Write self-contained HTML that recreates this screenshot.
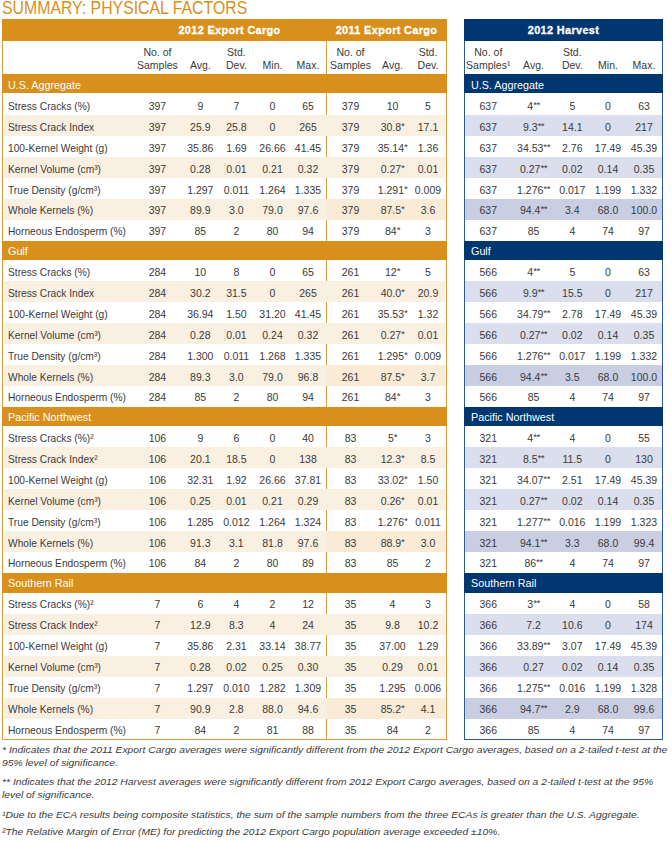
<!DOCTYPE html>
<html><head><meta charset="utf-8"><title>Summary: Physical Factors</title>
<style>
html,body{margin:0;padding:0;background:#fff;}
body{width:672px;height:842px;position:relative;overflow:hidden;font-family:"Liberation Sans", sans-serif;}
.t{position:absolute;white-space:nowrap;}
.r{position:absolute;}
.ast{font-size:0.95em;position:relative;top:-2px;letter-spacing:-0.6px;}
</style></head><body>
<div class="t" style="left:2.00px;top:-0.94px;font-size:17.5px;line-height:19.547px;color:#d88f1c;font-weight:normal;font-style:normal;transform:scaleX(0.905);transform-origin:0 0;">SUMMARY: PHYSICAL FACTORS</div>
<div class="r" style="left:2.00px;top:19.00px;width:1.00px;height:720.66px;background:#dc9c3e"></div>
<div class="r" style="left:446.00px;top:19.00px;width:1.00px;height:720.66px;background:#dc9c3e"></div>
<div class="r" style="left:2.00px;top:738.66px;width:445.00px;height:1.00px;background:#dc9c3e"></div>
<div class="r" style="left:326.00px;top:40.60px;width:1.00px;height:699.06px;background:#dc9c3e"></div>
<div class="r" style="left:464.00px;top:19.00px;width:1.00px;height:720.66px;background:#2b5a92"></div>
<div class="r" style="left:662.00px;top:19.00px;width:1.00px;height:720.66px;background:#2b5a92"></div>
<div class="r" style="left:464.00px;top:738.66px;width:199.00px;height:1.00px;background:#2b5a92"></div>
<div class="r" style="left:2.00px;top:19.00px;width:445.00px;height:21.60px;background:#d88f1c"></div>
<div class="r" style="left:464.00px;top:19.00px;width:199.00px;height:21.60px;background:#003770"></div>
<div class="t" style="left:129.50px;width:200px;text-align:center;top:23.94px;font-size:10.9px;line-height:12.175px;color:#fff;font-weight:bold;font-style:normal;letter-spacing:0.35px;-webkit-text-stroke:0.3px #fff;">2012 Export Cargo</div>
<div class="t" style="left:286.50px;width:200px;text-align:center;top:23.94px;font-size:10.9px;line-height:12.175px;color:#fff;font-weight:bold;font-style:normal;letter-spacing:0.35px;-webkit-text-stroke:0.3px #fff;">2011 Export Cargo</div>
<div class="t" style="left:463.50px;width:200px;text-align:center;top:23.94px;font-size:10.9px;line-height:12.175px;color:#fff;font-weight:bold;font-style:normal;letter-spacing:0.35px;-webkit-text-stroke:0.3px #fff;">2012 Harvest</div>
<div class="t" style="left:57.40px;width:200px;text-align:center;top:47.20px;font-size:10.5px;line-height:11.729px;color:#3a3a3a;font-weight:normal;font-style:normal;">No. of</div>
<div class="t" style="left:57.40px;width:200px;text-align:center;top:60.10px;font-size:10.5px;line-height:11.729px;color:#3a3a3a;font-weight:normal;font-style:normal;">Samples</div>
<div class="t" style="left:100.30px;width:200px;text-align:center;top:60.10px;font-size:10.5px;line-height:11.729px;color:#3a3a3a;font-weight:normal;font-style:normal;">Avg.</div>
<div class="t" style="left:136.40px;width:200px;text-align:center;top:47.20px;font-size:10.5px;line-height:11.729px;color:#3a3a3a;font-weight:normal;font-style:normal;">Std.</div>
<div class="t" style="left:136.40px;width:200px;text-align:center;top:60.10px;font-size:10.5px;line-height:11.729px;color:#3a3a3a;font-weight:normal;font-style:normal;">Dev.</div>
<div class="t" style="left:172.50px;width:200px;text-align:center;top:60.10px;font-size:10.5px;line-height:11.729px;color:#3a3a3a;font-weight:normal;font-style:normal;">Min.</div>
<div class="t" style="left:208.00px;width:200px;text-align:center;top:60.10px;font-size:10.5px;line-height:11.729px;color:#3a3a3a;font-weight:normal;font-style:normal;">Max.</div>
<div class="t" style="left:250.50px;width:200px;text-align:center;top:47.20px;font-size:10.5px;line-height:11.729px;color:#3a3a3a;font-weight:normal;font-style:normal;">No. of</div>
<div class="t" style="left:250.50px;width:200px;text-align:center;top:60.10px;font-size:10.5px;line-height:11.729px;color:#3a3a3a;font-weight:normal;font-style:normal;">Samples</div>
<div class="t" style="left:292.50px;width:200px;text-align:center;top:60.10px;font-size:10.5px;line-height:11.729px;color:#3a3a3a;font-weight:normal;font-style:normal;">Avg.</div>
<div class="t" style="left:328.00px;width:200px;text-align:center;top:47.20px;font-size:10.5px;line-height:11.729px;color:#3a3a3a;font-weight:normal;font-style:normal;">Std.</div>
<div class="t" style="left:328.00px;width:200px;text-align:center;top:60.10px;font-size:10.5px;line-height:11.729px;color:#3a3a3a;font-weight:normal;font-style:normal;">Dev.</div>
<div class="t" style="left:388.30px;width:200px;text-align:center;top:47.20px;font-size:10.5px;line-height:11.729px;color:#3a3a3a;font-weight:normal;font-style:normal;">No. of</div>
<div class="t" style="left:388.30px;width:200px;text-align:center;top:60.10px;font-size:10.5px;line-height:11.729px;color:#3a3a3a;font-weight:normal;font-style:normal;">Samples&sup1;</div>
<div class="t" style="left:433.50px;width:200px;text-align:center;top:60.10px;font-size:10.5px;line-height:11.729px;color:#3a3a3a;font-weight:normal;font-style:normal;">Avg.</div>
<div class="t" style="left:472.30px;width:200px;text-align:center;top:47.20px;font-size:10.5px;line-height:11.729px;color:#3a3a3a;font-weight:normal;font-style:normal;">Std.</div>
<div class="t" style="left:472.30px;width:200px;text-align:center;top:60.10px;font-size:10.5px;line-height:11.729px;color:#3a3a3a;font-weight:normal;font-style:normal;">Dev.</div>
<div class="t" style="left:508.00px;width:200px;text-align:center;top:60.10px;font-size:10.5px;line-height:11.729px;color:#3a3a3a;font-weight:normal;font-style:normal;">Min.</div>
<div class="t" style="left:544.00px;width:200px;text-align:center;top:60.10px;font-size:10.5px;line-height:11.729px;color:#3a3a3a;font-weight:normal;font-style:normal;">Max.</div>
<div class="r" style="left:2.00px;top:74.30px;width:445.00px;height:19.20px;background:#d88f1c"></div>
<div class="r" style="left:464.00px;top:74.30px;width:199.00px;height:19.20px;background:#003770"></div>
<div class="t" style="left:7.70px;top:80.00px;font-size:10.5px;line-height:11.729px;color:#fff;font-weight:normal;font-style:normal;transform:scaleX(1.026);transform-origin:0 0;">U.S. Aggregate</div>
<div class="t" style="left:470.80px;top:80.00px;font-size:10.5px;line-height:11.729px;color:#fff;font-weight:normal;font-style:normal;transform:scaleX(1.026);transform-origin:0 0;">U.S. Aggregate</div>
<div class="t" style="left:7.90px;top:101.00px;font-size:10.5px;line-height:11.729px;color:#3a3a3a;font-weight:normal;font-style:normal;transform:scaleX(0.972);transform-origin:0 0;">Stress Cracks (%)</div>
<div class="t" style="left:57.40px;width:200px;text-align:center;top:101.00px;font-size:10.5px;line-height:11.729px;color:#3a3a3a;font-weight:normal;font-style:normal;">397</div>
<div class="t" style="left:100.30px;width:200px;text-align:center;top:101.00px;font-size:10.5px;line-height:11.729px;color:#3a3a3a;font-weight:normal;font-style:normal;">9</div>
<div class="t" style="left:136.40px;width:200px;text-align:center;top:101.00px;font-size:10.5px;line-height:11.729px;color:#3a3a3a;font-weight:normal;font-style:normal;">7</div>
<div class="t" style="left:172.50px;width:200px;text-align:center;top:101.00px;font-size:10.5px;line-height:11.729px;color:#3a3a3a;font-weight:normal;font-style:normal;">0</div>
<div class="t" style="left:208.00px;width:200px;text-align:center;top:101.00px;font-size:10.5px;line-height:11.729px;color:#3a3a3a;font-weight:normal;font-style:normal;">65</div>
<div class="t" style="left:250.50px;width:200px;text-align:center;top:101.00px;font-size:10.5px;line-height:11.729px;color:#3a3a3a;font-weight:normal;font-style:normal;">379</div>
<div class="t" style="left:292.50px;width:200px;text-align:center;top:101.00px;font-size:10.5px;line-height:11.729px;color:#3a3a3a;font-weight:normal;font-style:normal;">10</div>
<div class="t" style="left:328.00px;width:200px;text-align:center;top:101.00px;font-size:10.5px;line-height:11.729px;color:#3a3a3a;font-weight:normal;font-style:normal;">5</div>
<div class="t" style="left:388.30px;width:200px;text-align:center;top:101.00px;font-size:10.5px;line-height:11.729px;color:#3a3a3a;font-weight:normal;font-style:normal;">637</div>
<div class="t" style="left:433.50px;width:200px;text-align:center;top:101.00px;font-size:10.5px;line-height:11.729px;color:#3a3a3a;font-weight:normal;font-style:normal;">4<span class="ast">**</span></div>
<div class="t" style="left:472.30px;width:200px;text-align:center;top:101.00px;font-size:10.5px;line-height:11.729px;color:#3a3a3a;font-weight:normal;font-style:normal;">5</div>
<div class="t" style="left:508.00px;width:200px;text-align:center;top:101.00px;font-size:10.5px;line-height:11.729px;color:#3a3a3a;font-weight:normal;font-style:normal;">0</div>
<div class="t" style="left:544.00px;width:200px;text-align:center;top:101.00px;font-size:10.5px;line-height:11.729px;color:#3a3a3a;font-weight:normal;font-style:normal;">63</div>
<div class="r" style="left:4.00px;top:114.52px;width:441.00px;height:21.02px;background:#faf0e1"></div>
<div class="r" style="left:465.00px;top:114.52px;width:197.00px;height:21.02px;background:#dbdeec"></div>
<div class="t" style="left:7.90px;top:122.00px;font-size:10.5px;line-height:11.729px;color:#3a3a3a;font-weight:normal;font-style:normal;transform:scaleX(0.972);transform-origin:0 0;">Stress Crack Index</div>
<div class="t" style="left:57.40px;width:200px;text-align:center;top:122.00px;font-size:10.5px;line-height:11.729px;color:#3a3a3a;font-weight:normal;font-style:normal;">397</div>
<div class="t" style="left:100.30px;width:200px;text-align:center;top:122.00px;font-size:10.5px;line-height:11.729px;color:#3a3a3a;font-weight:normal;font-style:normal;">25.9</div>
<div class="t" style="left:136.40px;width:200px;text-align:center;top:122.00px;font-size:10.5px;line-height:11.729px;color:#3a3a3a;font-weight:normal;font-style:normal;">25.8</div>
<div class="t" style="left:172.50px;width:200px;text-align:center;top:122.00px;font-size:10.5px;line-height:11.729px;color:#3a3a3a;font-weight:normal;font-style:normal;">0</div>
<div class="t" style="left:208.00px;width:200px;text-align:center;top:122.00px;font-size:10.5px;line-height:11.729px;color:#3a3a3a;font-weight:normal;font-style:normal;">265</div>
<div class="t" style="left:250.50px;width:200px;text-align:center;top:122.00px;font-size:10.5px;line-height:11.729px;color:#3a3a3a;font-weight:normal;font-style:normal;">379</div>
<div class="t" style="left:292.50px;width:200px;text-align:center;top:122.00px;font-size:10.5px;line-height:11.729px;color:#3a3a3a;font-weight:normal;font-style:normal;">30.8<span class="ast">*</span></div>
<div class="t" style="left:328.00px;width:200px;text-align:center;top:122.00px;font-size:10.5px;line-height:11.729px;color:#3a3a3a;font-weight:normal;font-style:normal;">17.1</div>
<div class="t" style="left:388.30px;width:200px;text-align:center;top:122.00px;font-size:10.5px;line-height:11.729px;color:#3a3a3a;font-weight:normal;font-style:normal;">637</div>
<div class="t" style="left:433.50px;width:200px;text-align:center;top:122.00px;font-size:10.5px;line-height:11.729px;color:#3a3a3a;font-weight:normal;font-style:normal;">9.3<span class="ast">**</span></div>
<div class="t" style="left:472.30px;width:200px;text-align:center;top:122.00px;font-size:10.5px;line-height:11.729px;color:#3a3a3a;font-weight:normal;font-style:normal;">14.1</div>
<div class="t" style="left:508.00px;width:200px;text-align:center;top:122.00px;font-size:10.5px;line-height:11.729px;color:#3a3a3a;font-weight:normal;font-style:normal;">0</div>
<div class="t" style="left:544.00px;width:200px;text-align:center;top:122.00px;font-size:10.5px;line-height:11.729px;color:#3a3a3a;font-weight:normal;font-style:normal;">217</div>
<div class="t" style="left:7.90px;top:143.00px;font-size:10.5px;line-height:11.729px;color:#3a3a3a;font-weight:normal;font-style:normal;transform:scaleX(0.972);transform-origin:0 0;">100-Kernel Weight (g)</div>
<div class="t" style="left:57.40px;width:200px;text-align:center;top:143.00px;font-size:10.5px;line-height:11.729px;color:#3a3a3a;font-weight:normal;font-style:normal;">397</div>
<div class="t" style="left:100.30px;width:200px;text-align:center;top:143.00px;font-size:10.5px;line-height:11.729px;color:#3a3a3a;font-weight:normal;font-style:normal;">35.86</div>
<div class="t" style="left:136.40px;width:200px;text-align:center;top:143.00px;font-size:10.5px;line-height:11.729px;color:#3a3a3a;font-weight:normal;font-style:normal;">1.69</div>
<div class="t" style="left:172.50px;width:200px;text-align:center;top:143.00px;font-size:10.5px;line-height:11.729px;color:#3a3a3a;font-weight:normal;font-style:normal;">26.66</div>
<div class="t" style="left:208.00px;width:200px;text-align:center;top:143.00px;font-size:10.5px;line-height:11.729px;color:#3a3a3a;font-weight:normal;font-style:normal;">41.45</div>
<div class="t" style="left:250.50px;width:200px;text-align:center;top:143.00px;font-size:10.5px;line-height:11.729px;color:#3a3a3a;font-weight:normal;font-style:normal;">379</div>
<div class="t" style="left:292.50px;width:200px;text-align:center;top:143.00px;font-size:10.5px;line-height:11.729px;color:#3a3a3a;font-weight:normal;font-style:normal;">35.14<span class="ast">*</span></div>
<div class="t" style="left:328.00px;width:200px;text-align:center;top:143.00px;font-size:10.5px;line-height:11.729px;color:#3a3a3a;font-weight:normal;font-style:normal;">1.36</div>
<div class="t" style="left:388.30px;width:200px;text-align:center;top:143.00px;font-size:10.5px;line-height:11.729px;color:#3a3a3a;font-weight:normal;font-style:normal;">637</div>
<div class="t" style="left:433.50px;width:200px;text-align:center;top:143.00px;font-size:10.5px;line-height:11.729px;color:#3a3a3a;font-weight:normal;font-style:normal;">34.53<span class="ast">**</span></div>
<div class="t" style="left:472.30px;width:200px;text-align:center;top:143.00px;font-size:10.5px;line-height:11.729px;color:#3a3a3a;font-weight:normal;font-style:normal;">2.76</div>
<div class="t" style="left:508.00px;width:200px;text-align:center;top:143.00px;font-size:10.5px;line-height:11.729px;color:#3a3a3a;font-weight:normal;font-style:normal;">17.49</div>
<div class="t" style="left:544.00px;width:200px;text-align:center;top:143.00px;font-size:10.5px;line-height:11.729px;color:#3a3a3a;font-weight:normal;font-style:normal;">45.39</div>
<div class="r" style="left:4.00px;top:156.56px;width:441.00px;height:21.02px;background:#faf0e1"></div>
<div class="r" style="left:465.00px;top:156.56px;width:197.00px;height:21.02px;background:#dbdeec"></div>
<div class="t" style="left:7.90px;top:164.00px;font-size:10.5px;line-height:11.729px;color:#3a3a3a;font-weight:normal;font-style:normal;transform:scaleX(0.972);transform-origin:0 0;">Kernel Volume (cm&sup3;)</div>
<div class="t" style="left:57.40px;width:200px;text-align:center;top:164.00px;font-size:10.5px;line-height:11.729px;color:#3a3a3a;font-weight:normal;font-style:normal;">397</div>
<div class="t" style="left:100.30px;width:200px;text-align:center;top:164.00px;font-size:10.5px;line-height:11.729px;color:#3a3a3a;font-weight:normal;font-style:normal;">0.28</div>
<div class="t" style="left:136.40px;width:200px;text-align:center;top:164.00px;font-size:10.5px;line-height:11.729px;color:#3a3a3a;font-weight:normal;font-style:normal;">0.01</div>
<div class="t" style="left:172.50px;width:200px;text-align:center;top:164.00px;font-size:10.5px;line-height:11.729px;color:#3a3a3a;font-weight:normal;font-style:normal;">0.21</div>
<div class="t" style="left:208.00px;width:200px;text-align:center;top:164.00px;font-size:10.5px;line-height:11.729px;color:#3a3a3a;font-weight:normal;font-style:normal;">0.32</div>
<div class="t" style="left:250.50px;width:200px;text-align:center;top:164.00px;font-size:10.5px;line-height:11.729px;color:#3a3a3a;font-weight:normal;font-style:normal;">379</div>
<div class="t" style="left:292.50px;width:200px;text-align:center;top:164.00px;font-size:10.5px;line-height:11.729px;color:#3a3a3a;font-weight:normal;font-style:normal;">0.27<span class="ast">*</span></div>
<div class="t" style="left:328.00px;width:200px;text-align:center;top:164.00px;font-size:10.5px;line-height:11.729px;color:#3a3a3a;font-weight:normal;font-style:normal;">0.01</div>
<div class="t" style="left:388.30px;width:200px;text-align:center;top:164.00px;font-size:10.5px;line-height:11.729px;color:#3a3a3a;font-weight:normal;font-style:normal;">637</div>
<div class="t" style="left:433.50px;width:200px;text-align:center;top:164.00px;font-size:10.5px;line-height:11.729px;color:#3a3a3a;font-weight:normal;font-style:normal;">0.27<span class="ast">**</span></div>
<div class="t" style="left:472.30px;width:200px;text-align:center;top:164.00px;font-size:10.5px;line-height:11.729px;color:#3a3a3a;font-weight:normal;font-style:normal;">0.02</div>
<div class="t" style="left:508.00px;width:200px;text-align:center;top:164.00px;font-size:10.5px;line-height:11.729px;color:#3a3a3a;font-weight:normal;font-style:normal;">0.14</div>
<div class="t" style="left:544.00px;width:200px;text-align:center;top:164.00px;font-size:10.5px;line-height:11.729px;color:#3a3a3a;font-weight:normal;font-style:normal;">0.35</div>
<div class="t" style="left:7.90px;top:185.00px;font-size:10.5px;line-height:11.729px;color:#3a3a3a;font-weight:normal;font-style:normal;transform:scaleX(0.972);transform-origin:0 0;">True Density (g/cm&sup3;)</div>
<div class="t" style="left:57.40px;width:200px;text-align:center;top:185.00px;font-size:10.5px;line-height:11.729px;color:#3a3a3a;font-weight:normal;font-style:normal;">397</div>
<div class="t" style="left:100.30px;width:200px;text-align:center;top:185.00px;font-size:10.5px;line-height:11.729px;color:#3a3a3a;font-weight:normal;font-style:normal;">1.297</div>
<div class="t" style="left:136.40px;width:200px;text-align:center;top:185.00px;font-size:10.5px;line-height:11.729px;color:#3a3a3a;font-weight:normal;font-style:normal;">0.011</div>
<div class="t" style="left:172.50px;width:200px;text-align:center;top:185.00px;font-size:10.5px;line-height:11.729px;color:#3a3a3a;font-weight:normal;font-style:normal;">1.264</div>
<div class="t" style="left:208.00px;width:200px;text-align:center;top:185.00px;font-size:10.5px;line-height:11.729px;color:#3a3a3a;font-weight:normal;font-style:normal;">1.335</div>
<div class="t" style="left:250.50px;width:200px;text-align:center;top:185.00px;font-size:10.5px;line-height:11.729px;color:#3a3a3a;font-weight:normal;font-style:normal;">379</div>
<div class="t" style="left:292.50px;width:200px;text-align:center;top:185.00px;font-size:10.5px;line-height:11.729px;color:#3a3a3a;font-weight:normal;font-style:normal;">1.291<span class="ast">*</span></div>
<div class="t" style="left:328.00px;width:200px;text-align:center;top:185.00px;font-size:10.5px;line-height:11.729px;color:#3a3a3a;font-weight:normal;font-style:normal;">0.009</div>
<div class="t" style="left:388.30px;width:200px;text-align:center;top:185.00px;font-size:10.5px;line-height:11.729px;color:#3a3a3a;font-weight:normal;font-style:normal;">637</div>
<div class="t" style="left:433.50px;width:200px;text-align:center;top:185.00px;font-size:10.5px;line-height:11.729px;color:#3a3a3a;font-weight:normal;font-style:normal;">1.276<span class="ast">**</span></div>
<div class="t" style="left:472.30px;width:200px;text-align:center;top:185.00px;font-size:10.5px;line-height:11.729px;color:#3a3a3a;font-weight:normal;font-style:normal;">0.017</div>
<div class="t" style="left:508.00px;width:200px;text-align:center;top:185.00px;font-size:10.5px;line-height:11.729px;color:#3a3a3a;font-weight:normal;font-style:normal;">1.199</div>
<div class="t" style="left:544.00px;width:200px;text-align:center;top:185.00px;font-size:10.5px;line-height:11.729px;color:#3a3a3a;font-weight:normal;font-style:normal;">1.332</div>
<div class="r" style="left:4.00px;top:198.60px;width:441.00px;height:21.02px;background:#faf0e1"></div>
<div class="r" style="left:465.00px;top:198.60px;width:197.00px;height:21.02px;background:#c9cee3"></div>
<div class="r" style="left:327.00px;top:198.60px;width:118.00px;height:21.02px;background:#f9ebd6"></div>
<div class="t" style="left:7.90px;top:205.00px;font-size:10.5px;line-height:11.729px;color:#3a3a3a;font-weight:normal;font-style:normal;transform:scaleX(0.972);transform-origin:0 0;">Whole Kernels (%)</div>
<div class="t" style="left:57.40px;width:200px;text-align:center;top:205.00px;font-size:10.5px;line-height:11.729px;color:#3a3a3a;font-weight:normal;font-style:normal;">397</div>
<div class="t" style="left:100.30px;width:200px;text-align:center;top:205.00px;font-size:10.5px;line-height:11.729px;color:#3a3a3a;font-weight:normal;font-style:normal;">89.9</div>
<div class="t" style="left:136.40px;width:200px;text-align:center;top:205.00px;font-size:10.5px;line-height:11.729px;color:#3a3a3a;font-weight:normal;font-style:normal;">3.0</div>
<div class="t" style="left:172.50px;width:200px;text-align:center;top:205.00px;font-size:10.5px;line-height:11.729px;color:#3a3a3a;font-weight:normal;font-style:normal;">79.0</div>
<div class="t" style="left:208.00px;width:200px;text-align:center;top:205.00px;font-size:10.5px;line-height:11.729px;color:#3a3a3a;font-weight:normal;font-style:normal;">97.6</div>
<div class="t" style="left:250.50px;width:200px;text-align:center;top:205.00px;font-size:10.5px;line-height:11.729px;color:#3a3a3a;font-weight:normal;font-style:normal;">379</div>
<div class="t" style="left:292.50px;width:200px;text-align:center;top:205.00px;font-size:10.5px;line-height:11.729px;color:#3a3a3a;font-weight:normal;font-style:normal;">87.5<span class="ast">*</span></div>
<div class="t" style="left:328.00px;width:200px;text-align:center;top:205.00px;font-size:10.5px;line-height:11.729px;color:#3a3a3a;font-weight:normal;font-style:normal;">3.6</div>
<div class="t" style="left:388.30px;width:200px;text-align:center;top:205.00px;font-size:10.5px;line-height:11.729px;color:#3a3a3a;font-weight:normal;font-style:normal;">637</div>
<div class="t" style="left:433.50px;width:200px;text-align:center;top:205.00px;font-size:10.5px;line-height:11.729px;color:#3a3a3a;font-weight:normal;font-style:normal;">94.4<span class="ast">**</span></div>
<div class="t" style="left:472.30px;width:200px;text-align:center;top:205.00px;font-size:10.5px;line-height:11.729px;color:#3a3a3a;font-weight:normal;font-style:normal;">3.4</div>
<div class="t" style="left:508.00px;width:200px;text-align:center;top:205.00px;font-size:10.5px;line-height:11.729px;color:#3a3a3a;font-weight:normal;font-style:normal;">68.0</div>
<div class="t" style="left:544.00px;width:200px;text-align:center;top:205.00px;font-size:10.5px;line-height:11.729px;color:#3a3a3a;font-weight:normal;font-style:normal;">100.0</div>
<div class="t" style="left:7.90px;top:226.00px;font-size:10.5px;line-height:11.729px;color:#3a3a3a;font-weight:normal;font-style:normal;transform:scaleX(0.972);transform-origin:0 0;">Horneous Endosperm (%)</div>
<div class="t" style="left:57.40px;width:200px;text-align:center;top:226.00px;font-size:10.5px;line-height:11.729px;color:#3a3a3a;font-weight:normal;font-style:normal;">397</div>
<div class="t" style="left:100.30px;width:200px;text-align:center;top:226.00px;font-size:10.5px;line-height:11.729px;color:#3a3a3a;font-weight:normal;font-style:normal;">85</div>
<div class="t" style="left:136.40px;width:200px;text-align:center;top:226.00px;font-size:10.5px;line-height:11.729px;color:#3a3a3a;font-weight:normal;font-style:normal;">2</div>
<div class="t" style="left:172.50px;width:200px;text-align:center;top:226.00px;font-size:10.5px;line-height:11.729px;color:#3a3a3a;font-weight:normal;font-style:normal;">80</div>
<div class="t" style="left:208.00px;width:200px;text-align:center;top:226.00px;font-size:10.5px;line-height:11.729px;color:#3a3a3a;font-weight:normal;font-style:normal;">94</div>
<div class="t" style="left:250.50px;width:200px;text-align:center;top:226.00px;font-size:10.5px;line-height:11.729px;color:#3a3a3a;font-weight:normal;font-style:normal;">379</div>
<div class="t" style="left:292.50px;width:200px;text-align:center;top:226.00px;font-size:10.5px;line-height:11.729px;color:#3a3a3a;font-weight:normal;font-style:normal;">84<span class="ast">*</span></div>
<div class="t" style="left:328.00px;width:200px;text-align:center;top:226.00px;font-size:10.5px;line-height:11.729px;color:#3a3a3a;font-weight:normal;font-style:normal;">3</div>
<div class="t" style="left:388.30px;width:200px;text-align:center;top:226.00px;font-size:10.5px;line-height:11.729px;color:#3a3a3a;font-weight:normal;font-style:normal;">637</div>
<div class="t" style="left:433.50px;width:200px;text-align:center;top:226.00px;font-size:10.5px;line-height:11.729px;color:#3a3a3a;font-weight:normal;font-style:normal;">85</div>
<div class="t" style="left:472.30px;width:200px;text-align:center;top:226.00px;font-size:10.5px;line-height:11.729px;color:#3a3a3a;font-weight:normal;font-style:normal;">4</div>
<div class="t" style="left:508.00px;width:200px;text-align:center;top:226.00px;font-size:10.5px;line-height:11.729px;color:#3a3a3a;font-weight:normal;font-style:normal;">74</div>
<div class="t" style="left:544.00px;width:200px;text-align:center;top:226.00px;font-size:10.5px;line-height:11.729px;color:#3a3a3a;font-weight:normal;font-style:normal;">97</div>
<div class="r" style="left:2.00px;top:240.64px;width:445.00px;height:19.20px;background:#d88f1c"></div>
<div class="r" style="left:464.00px;top:240.64px;width:199.00px;height:19.20px;background:#003770"></div>
<div class="t" style="left:7.70px;top:246.00px;font-size:10.5px;line-height:11.729px;color:#fff;font-weight:normal;font-style:normal;transform:scaleX(1.026);transform-origin:0 0;">Gulf</div>
<div class="t" style="left:470.80px;top:246.00px;font-size:10.5px;line-height:11.729px;color:#fff;font-weight:normal;font-style:normal;transform:scaleX(1.026);transform-origin:0 0;">Gulf</div>
<div class="t" style="left:7.90px;top:267.00px;font-size:10.5px;line-height:11.729px;color:#3a3a3a;font-weight:normal;font-style:normal;transform:scaleX(0.972);transform-origin:0 0;">Stress Cracks (%)</div>
<div class="t" style="left:57.40px;width:200px;text-align:center;top:267.00px;font-size:10.5px;line-height:11.729px;color:#3a3a3a;font-weight:normal;font-style:normal;">284</div>
<div class="t" style="left:100.30px;width:200px;text-align:center;top:267.00px;font-size:10.5px;line-height:11.729px;color:#3a3a3a;font-weight:normal;font-style:normal;">10</div>
<div class="t" style="left:136.40px;width:200px;text-align:center;top:267.00px;font-size:10.5px;line-height:11.729px;color:#3a3a3a;font-weight:normal;font-style:normal;">8</div>
<div class="t" style="left:172.50px;width:200px;text-align:center;top:267.00px;font-size:10.5px;line-height:11.729px;color:#3a3a3a;font-weight:normal;font-style:normal;">0</div>
<div class="t" style="left:208.00px;width:200px;text-align:center;top:267.00px;font-size:10.5px;line-height:11.729px;color:#3a3a3a;font-weight:normal;font-style:normal;">65</div>
<div class="t" style="left:250.50px;width:200px;text-align:center;top:267.00px;font-size:10.5px;line-height:11.729px;color:#3a3a3a;font-weight:normal;font-style:normal;">261</div>
<div class="t" style="left:292.50px;width:200px;text-align:center;top:267.00px;font-size:10.5px;line-height:11.729px;color:#3a3a3a;font-weight:normal;font-style:normal;">12<span class="ast">*</span></div>
<div class="t" style="left:328.00px;width:200px;text-align:center;top:267.00px;font-size:10.5px;line-height:11.729px;color:#3a3a3a;font-weight:normal;font-style:normal;">5</div>
<div class="t" style="left:388.30px;width:200px;text-align:center;top:267.00px;font-size:10.5px;line-height:11.729px;color:#3a3a3a;font-weight:normal;font-style:normal;">566</div>
<div class="t" style="left:433.50px;width:200px;text-align:center;top:267.00px;font-size:10.5px;line-height:11.729px;color:#3a3a3a;font-weight:normal;font-style:normal;">4<span class="ast">**</span></div>
<div class="t" style="left:472.30px;width:200px;text-align:center;top:267.00px;font-size:10.5px;line-height:11.729px;color:#3a3a3a;font-weight:normal;font-style:normal;">5</div>
<div class="t" style="left:508.00px;width:200px;text-align:center;top:267.00px;font-size:10.5px;line-height:11.729px;color:#3a3a3a;font-weight:normal;font-style:normal;">0</div>
<div class="t" style="left:544.00px;width:200px;text-align:center;top:267.00px;font-size:10.5px;line-height:11.729px;color:#3a3a3a;font-weight:normal;font-style:normal;">63</div>
<div class="r" style="left:4.00px;top:280.86px;width:441.00px;height:21.02px;background:#faf0e1"></div>
<div class="r" style="left:465.00px;top:280.86px;width:197.00px;height:21.02px;background:#dbdeec"></div>
<div class="t" style="left:7.90px;top:288.00px;font-size:10.5px;line-height:11.729px;color:#3a3a3a;font-weight:normal;font-style:normal;transform:scaleX(0.972);transform-origin:0 0;">Stress Crack Index</div>
<div class="t" style="left:57.40px;width:200px;text-align:center;top:288.00px;font-size:10.5px;line-height:11.729px;color:#3a3a3a;font-weight:normal;font-style:normal;">284</div>
<div class="t" style="left:100.30px;width:200px;text-align:center;top:288.00px;font-size:10.5px;line-height:11.729px;color:#3a3a3a;font-weight:normal;font-style:normal;">30.2</div>
<div class="t" style="left:136.40px;width:200px;text-align:center;top:288.00px;font-size:10.5px;line-height:11.729px;color:#3a3a3a;font-weight:normal;font-style:normal;">31.5</div>
<div class="t" style="left:172.50px;width:200px;text-align:center;top:288.00px;font-size:10.5px;line-height:11.729px;color:#3a3a3a;font-weight:normal;font-style:normal;">0</div>
<div class="t" style="left:208.00px;width:200px;text-align:center;top:288.00px;font-size:10.5px;line-height:11.729px;color:#3a3a3a;font-weight:normal;font-style:normal;">265</div>
<div class="t" style="left:250.50px;width:200px;text-align:center;top:288.00px;font-size:10.5px;line-height:11.729px;color:#3a3a3a;font-weight:normal;font-style:normal;">261</div>
<div class="t" style="left:292.50px;width:200px;text-align:center;top:288.00px;font-size:10.5px;line-height:11.729px;color:#3a3a3a;font-weight:normal;font-style:normal;">40.0<span class="ast">*</span></div>
<div class="t" style="left:328.00px;width:200px;text-align:center;top:288.00px;font-size:10.5px;line-height:11.729px;color:#3a3a3a;font-weight:normal;font-style:normal;">20.9</div>
<div class="t" style="left:388.30px;width:200px;text-align:center;top:288.00px;font-size:10.5px;line-height:11.729px;color:#3a3a3a;font-weight:normal;font-style:normal;">566</div>
<div class="t" style="left:433.50px;width:200px;text-align:center;top:288.00px;font-size:10.5px;line-height:11.729px;color:#3a3a3a;font-weight:normal;font-style:normal;">9.9<span class="ast">**</span></div>
<div class="t" style="left:472.30px;width:200px;text-align:center;top:288.00px;font-size:10.5px;line-height:11.729px;color:#3a3a3a;font-weight:normal;font-style:normal;">15.5</div>
<div class="t" style="left:508.00px;width:200px;text-align:center;top:288.00px;font-size:10.5px;line-height:11.729px;color:#3a3a3a;font-weight:normal;font-style:normal;">0</div>
<div class="t" style="left:544.00px;width:200px;text-align:center;top:288.00px;font-size:10.5px;line-height:11.729px;color:#3a3a3a;font-weight:normal;font-style:normal;">217</div>
<div class="t" style="left:7.90px;top:309.00px;font-size:10.5px;line-height:11.729px;color:#3a3a3a;font-weight:normal;font-style:normal;transform:scaleX(0.972);transform-origin:0 0;">100-Kernel Weight (g)</div>
<div class="t" style="left:57.40px;width:200px;text-align:center;top:309.00px;font-size:10.5px;line-height:11.729px;color:#3a3a3a;font-weight:normal;font-style:normal;">284</div>
<div class="t" style="left:100.30px;width:200px;text-align:center;top:309.00px;font-size:10.5px;line-height:11.729px;color:#3a3a3a;font-weight:normal;font-style:normal;">36.94</div>
<div class="t" style="left:136.40px;width:200px;text-align:center;top:309.00px;font-size:10.5px;line-height:11.729px;color:#3a3a3a;font-weight:normal;font-style:normal;">1.50</div>
<div class="t" style="left:172.50px;width:200px;text-align:center;top:309.00px;font-size:10.5px;line-height:11.729px;color:#3a3a3a;font-weight:normal;font-style:normal;">31.20</div>
<div class="t" style="left:208.00px;width:200px;text-align:center;top:309.00px;font-size:10.5px;line-height:11.729px;color:#3a3a3a;font-weight:normal;font-style:normal;">41.45</div>
<div class="t" style="left:250.50px;width:200px;text-align:center;top:309.00px;font-size:10.5px;line-height:11.729px;color:#3a3a3a;font-weight:normal;font-style:normal;">261</div>
<div class="t" style="left:292.50px;width:200px;text-align:center;top:309.00px;font-size:10.5px;line-height:11.729px;color:#3a3a3a;font-weight:normal;font-style:normal;">35.53<span class="ast">*</span></div>
<div class="t" style="left:328.00px;width:200px;text-align:center;top:309.00px;font-size:10.5px;line-height:11.729px;color:#3a3a3a;font-weight:normal;font-style:normal;">1.32</div>
<div class="t" style="left:388.30px;width:200px;text-align:center;top:309.00px;font-size:10.5px;line-height:11.729px;color:#3a3a3a;font-weight:normal;font-style:normal;">566</div>
<div class="t" style="left:433.50px;width:200px;text-align:center;top:309.00px;font-size:10.5px;line-height:11.729px;color:#3a3a3a;font-weight:normal;font-style:normal;">34.79<span class="ast">**</span></div>
<div class="t" style="left:472.30px;width:200px;text-align:center;top:309.00px;font-size:10.5px;line-height:11.729px;color:#3a3a3a;font-weight:normal;font-style:normal;">2.78</div>
<div class="t" style="left:508.00px;width:200px;text-align:center;top:309.00px;font-size:10.5px;line-height:11.729px;color:#3a3a3a;font-weight:normal;font-style:normal;">17.49</div>
<div class="t" style="left:544.00px;width:200px;text-align:center;top:309.00px;font-size:10.5px;line-height:11.729px;color:#3a3a3a;font-weight:normal;font-style:normal;">45.39</div>
<div class="r" style="left:4.00px;top:322.90px;width:441.00px;height:21.02px;background:#faf0e1"></div>
<div class="r" style="left:465.00px;top:322.90px;width:197.00px;height:21.02px;background:#dbdeec"></div>
<div class="t" style="left:7.90px;top:330.00px;font-size:10.5px;line-height:11.729px;color:#3a3a3a;font-weight:normal;font-style:normal;transform:scaleX(0.972);transform-origin:0 0;">Kernel Volume (cm&sup3;)</div>
<div class="t" style="left:57.40px;width:200px;text-align:center;top:330.00px;font-size:10.5px;line-height:11.729px;color:#3a3a3a;font-weight:normal;font-style:normal;">284</div>
<div class="t" style="left:100.30px;width:200px;text-align:center;top:330.00px;font-size:10.5px;line-height:11.729px;color:#3a3a3a;font-weight:normal;font-style:normal;">0.28</div>
<div class="t" style="left:136.40px;width:200px;text-align:center;top:330.00px;font-size:10.5px;line-height:11.729px;color:#3a3a3a;font-weight:normal;font-style:normal;">0.01</div>
<div class="t" style="left:172.50px;width:200px;text-align:center;top:330.00px;font-size:10.5px;line-height:11.729px;color:#3a3a3a;font-weight:normal;font-style:normal;">0.24</div>
<div class="t" style="left:208.00px;width:200px;text-align:center;top:330.00px;font-size:10.5px;line-height:11.729px;color:#3a3a3a;font-weight:normal;font-style:normal;">0.32</div>
<div class="t" style="left:250.50px;width:200px;text-align:center;top:330.00px;font-size:10.5px;line-height:11.729px;color:#3a3a3a;font-weight:normal;font-style:normal;">261</div>
<div class="t" style="left:292.50px;width:200px;text-align:center;top:330.00px;font-size:10.5px;line-height:11.729px;color:#3a3a3a;font-weight:normal;font-style:normal;">0.27<span class="ast">*</span></div>
<div class="t" style="left:328.00px;width:200px;text-align:center;top:330.00px;font-size:10.5px;line-height:11.729px;color:#3a3a3a;font-weight:normal;font-style:normal;">0.01</div>
<div class="t" style="left:388.30px;width:200px;text-align:center;top:330.00px;font-size:10.5px;line-height:11.729px;color:#3a3a3a;font-weight:normal;font-style:normal;">566</div>
<div class="t" style="left:433.50px;width:200px;text-align:center;top:330.00px;font-size:10.5px;line-height:11.729px;color:#3a3a3a;font-weight:normal;font-style:normal;">0.27<span class="ast">**</span></div>
<div class="t" style="left:472.30px;width:200px;text-align:center;top:330.00px;font-size:10.5px;line-height:11.729px;color:#3a3a3a;font-weight:normal;font-style:normal;">0.02</div>
<div class="t" style="left:508.00px;width:200px;text-align:center;top:330.00px;font-size:10.5px;line-height:11.729px;color:#3a3a3a;font-weight:normal;font-style:normal;">0.14</div>
<div class="t" style="left:544.00px;width:200px;text-align:center;top:330.00px;font-size:10.5px;line-height:11.729px;color:#3a3a3a;font-weight:normal;font-style:normal;">0.35</div>
<div class="t" style="left:7.90px;top:351.00px;font-size:10.5px;line-height:11.729px;color:#3a3a3a;font-weight:normal;font-style:normal;transform:scaleX(0.972);transform-origin:0 0;">True Density (g/cm&sup3;)</div>
<div class="t" style="left:57.40px;width:200px;text-align:center;top:351.00px;font-size:10.5px;line-height:11.729px;color:#3a3a3a;font-weight:normal;font-style:normal;">284</div>
<div class="t" style="left:100.30px;width:200px;text-align:center;top:351.00px;font-size:10.5px;line-height:11.729px;color:#3a3a3a;font-weight:normal;font-style:normal;">1.300</div>
<div class="t" style="left:136.40px;width:200px;text-align:center;top:351.00px;font-size:10.5px;line-height:11.729px;color:#3a3a3a;font-weight:normal;font-style:normal;">0.011</div>
<div class="t" style="left:172.50px;width:200px;text-align:center;top:351.00px;font-size:10.5px;line-height:11.729px;color:#3a3a3a;font-weight:normal;font-style:normal;">1.268</div>
<div class="t" style="left:208.00px;width:200px;text-align:center;top:351.00px;font-size:10.5px;line-height:11.729px;color:#3a3a3a;font-weight:normal;font-style:normal;">1.335</div>
<div class="t" style="left:250.50px;width:200px;text-align:center;top:351.00px;font-size:10.5px;line-height:11.729px;color:#3a3a3a;font-weight:normal;font-style:normal;">261</div>
<div class="t" style="left:292.50px;width:200px;text-align:center;top:351.00px;font-size:10.5px;line-height:11.729px;color:#3a3a3a;font-weight:normal;font-style:normal;">1.295<span class="ast">*</span></div>
<div class="t" style="left:328.00px;width:200px;text-align:center;top:351.00px;font-size:10.5px;line-height:11.729px;color:#3a3a3a;font-weight:normal;font-style:normal;">0.009</div>
<div class="t" style="left:388.30px;width:200px;text-align:center;top:351.00px;font-size:10.5px;line-height:11.729px;color:#3a3a3a;font-weight:normal;font-style:normal;">566</div>
<div class="t" style="left:433.50px;width:200px;text-align:center;top:351.00px;font-size:10.5px;line-height:11.729px;color:#3a3a3a;font-weight:normal;font-style:normal;">1.276<span class="ast">**</span></div>
<div class="t" style="left:472.30px;width:200px;text-align:center;top:351.00px;font-size:10.5px;line-height:11.729px;color:#3a3a3a;font-weight:normal;font-style:normal;">0.017</div>
<div class="t" style="left:508.00px;width:200px;text-align:center;top:351.00px;font-size:10.5px;line-height:11.729px;color:#3a3a3a;font-weight:normal;font-style:normal;">1.199</div>
<div class="t" style="left:544.00px;width:200px;text-align:center;top:351.00px;font-size:10.5px;line-height:11.729px;color:#3a3a3a;font-weight:normal;font-style:normal;">1.332</div>
<div class="r" style="left:4.00px;top:364.94px;width:441.00px;height:21.02px;background:#faf0e1"></div>
<div class="r" style="left:465.00px;top:364.94px;width:197.00px;height:21.02px;background:#c9cee3"></div>
<div class="r" style="left:327.00px;top:364.94px;width:118.00px;height:21.02px;background:#f9ebd6"></div>
<div class="t" style="left:7.90px;top:372.00px;font-size:10.5px;line-height:11.729px;color:#3a3a3a;font-weight:normal;font-style:normal;transform:scaleX(0.972);transform-origin:0 0;">Whole Kernels (%)</div>
<div class="t" style="left:57.40px;width:200px;text-align:center;top:372.00px;font-size:10.5px;line-height:11.729px;color:#3a3a3a;font-weight:normal;font-style:normal;">284</div>
<div class="t" style="left:100.30px;width:200px;text-align:center;top:372.00px;font-size:10.5px;line-height:11.729px;color:#3a3a3a;font-weight:normal;font-style:normal;">89.3</div>
<div class="t" style="left:136.40px;width:200px;text-align:center;top:372.00px;font-size:10.5px;line-height:11.729px;color:#3a3a3a;font-weight:normal;font-style:normal;">3.0</div>
<div class="t" style="left:172.50px;width:200px;text-align:center;top:372.00px;font-size:10.5px;line-height:11.729px;color:#3a3a3a;font-weight:normal;font-style:normal;">79.0</div>
<div class="t" style="left:208.00px;width:200px;text-align:center;top:372.00px;font-size:10.5px;line-height:11.729px;color:#3a3a3a;font-weight:normal;font-style:normal;">96.8</div>
<div class="t" style="left:250.50px;width:200px;text-align:center;top:372.00px;font-size:10.5px;line-height:11.729px;color:#3a3a3a;font-weight:normal;font-style:normal;">261</div>
<div class="t" style="left:292.50px;width:200px;text-align:center;top:372.00px;font-size:10.5px;line-height:11.729px;color:#3a3a3a;font-weight:normal;font-style:normal;">87.5<span class="ast">*</span></div>
<div class="t" style="left:328.00px;width:200px;text-align:center;top:372.00px;font-size:10.5px;line-height:11.729px;color:#3a3a3a;font-weight:normal;font-style:normal;">3.7</div>
<div class="t" style="left:388.30px;width:200px;text-align:center;top:372.00px;font-size:10.5px;line-height:11.729px;color:#3a3a3a;font-weight:normal;font-style:normal;">566</div>
<div class="t" style="left:433.50px;width:200px;text-align:center;top:372.00px;font-size:10.5px;line-height:11.729px;color:#3a3a3a;font-weight:normal;font-style:normal;">94.4<span class="ast">**</span></div>
<div class="t" style="left:472.30px;width:200px;text-align:center;top:372.00px;font-size:10.5px;line-height:11.729px;color:#3a3a3a;font-weight:normal;font-style:normal;">3.5</div>
<div class="t" style="left:508.00px;width:200px;text-align:center;top:372.00px;font-size:10.5px;line-height:11.729px;color:#3a3a3a;font-weight:normal;font-style:normal;">68.0</div>
<div class="t" style="left:544.00px;width:200px;text-align:center;top:372.00px;font-size:10.5px;line-height:11.729px;color:#3a3a3a;font-weight:normal;font-style:normal;">100.0</div>
<div class="t" style="left:7.90px;top:392.00px;font-size:10.5px;line-height:11.729px;color:#3a3a3a;font-weight:normal;font-style:normal;transform:scaleX(0.972);transform-origin:0 0;">Horneous Endosperm (%)</div>
<div class="t" style="left:57.40px;width:200px;text-align:center;top:392.00px;font-size:10.5px;line-height:11.729px;color:#3a3a3a;font-weight:normal;font-style:normal;">284</div>
<div class="t" style="left:100.30px;width:200px;text-align:center;top:392.00px;font-size:10.5px;line-height:11.729px;color:#3a3a3a;font-weight:normal;font-style:normal;">85</div>
<div class="t" style="left:136.40px;width:200px;text-align:center;top:392.00px;font-size:10.5px;line-height:11.729px;color:#3a3a3a;font-weight:normal;font-style:normal;">2</div>
<div class="t" style="left:172.50px;width:200px;text-align:center;top:392.00px;font-size:10.5px;line-height:11.729px;color:#3a3a3a;font-weight:normal;font-style:normal;">80</div>
<div class="t" style="left:208.00px;width:200px;text-align:center;top:392.00px;font-size:10.5px;line-height:11.729px;color:#3a3a3a;font-weight:normal;font-style:normal;">94</div>
<div class="t" style="left:250.50px;width:200px;text-align:center;top:392.00px;font-size:10.5px;line-height:11.729px;color:#3a3a3a;font-weight:normal;font-style:normal;">261</div>
<div class="t" style="left:292.50px;width:200px;text-align:center;top:392.00px;font-size:10.5px;line-height:11.729px;color:#3a3a3a;font-weight:normal;font-style:normal;">84<span class="ast">*</span></div>
<div class="t" style="left:328.00px;width:200px;text-align:center;top:392.00px;font-size:10.5px;line-height:11.729px;color:#3a3a3a;font-weight:normal;font-style:normal;">3</div>
<div class="t" style="left:388.30px;width:200px;text-align:center;top:392.00px;font-size:10.5px;line-height:11.729px;color:#3a3a3a;font-weight:normal;font-style:normal;">566</div>
<div class="t" style="left:433.50px;width:200px;text-align:center;top:392.00px;font-size:10.5px;line-height:11.729px;color:#3a3a3a;font-weight:normal;font-style:normal;">85</div>
<div class="t" style="left:472.30px;width:200px;text-align:center;top:392.00px;font-size:10.5px;line-height:11.729px;color:#3a3a3a;font-weight:normal;font-style:normal;">4</div>
<div class="t" style="left:508.00px;width:200px;text-align:center;top:392.00px;font-size:10.5px;line-height:11.729px;color:#3a3a3a;font-weight:normal;font-style:normal;">74</div>
<div class="t" style="left:544.00px;width:200px;text-align:center;top:392.00px;font-size:10.5px;line-height:11.729px;color:#3a3a3a;font-weight:normal;font-style:normal;">97</div>
<div class="r" style="left:2.00px;top:406.98px;width:445.00px;height:19.20px;background:#d88f1c"></div>
<div class="r" style="left:464.00px;top:406.98px;width:199.00px;height:19.20px;background:#003770"></div>
<div class="t" style="left:7.70px;top:412.00px;font-size:10.5px;line-height:11.729px;color:#fff;font-weight:normal;font-style:normal;transform:scaleX(1.026);transform-origin:0 0;">Pacific Northwest</div>
<div class="t" style="left:470.80px;top:412.00px;font-size:10.5px;line-height:11.729px;color:#fff;font-weight:normal;font-style:normal;transform:scaleX(1.026);transform-origin:0 0;">Pacific Northwest</div>
<div class="t" style="left:7.90px;top:433.00px;font-size:10.5px;line-height:11.729px;color:#3a3a3a;font-weight:normal;font-style:normal;transform:scaleX(0.972);transform-origin:0 0;">Stress Cracks (%)&sup2;</div>
<div class="t" style="left:57.40px;width:200px;text-align:center;top:433.00px;font-size:10.5px;line-height:11.729px;color:#3a3a3a;font-weight:normal;font-style:normal;">106</div>
<div class="t" style="left:100.30px;width:200px;text-align:center;top:433.00px;font-size:10.5px;line-height:11.729px;color:#3a3a3a;font-weight:normal;font-style:normal;">9</div>
<div class="t" style="left:136.40px;width:200px;text-align:center;top:433.00px;font-size:10.5px;line-height:11.729px;color:#3a3a3a;font-weight:normal;font-style:normal;">6</div>
<div class="t" style="left:172.50px;width:200px;text-align:center;top:433.00px;font-size:10.5px;line-height:11.729px;color:#3a3a3a;font-weight:normal;font-style:normal;">0</div>
<div class="t" style="left:208.00px;width:200px;text-align:center;top:433.00px;font-size:10.5px;line-height:11.729px;color:#3a3a3a;font-weight:normal;font-style:normal;">40</div>
<div class="t" style="left:250.50px;width:200px;text-align:center;top:433.00px;font-size:10.5px;line-height:11.729px;color:#3a3a3a;font-weight:normal;font-style:normal;">83</div>
<div class="t" style="left:292.50px;width:200px;text-align:center;top:433.00px;font-size:10.5px;line-height:11.729px;color:#3a3a3a;font-weight:normal;font-style:normal;">5<span class="ast">*</span></div>
<div class="t" style="left:328.00px;width:200px;text-align:center;top:433.00px;font-size:10.5px;line-height:11.729px;color:#3a3a3a;font-weight:normal;font-style:normal;">3</div>
<div class="t" style="left:388.30px;width:200px;text-align:center;top:433.00px;font-size:10.5px;line-height:11.729px;color:#3a3a3a;font-weight:normal;font-style:normal;">321</div>
<div class="t" style="left:433.50px;width:200px;text-align:center;top:433.00px;font-size:10.5px;line-height:11.729px;color:#3a3a3a;font-weight:normal;font-style:normal;">4<span class="ast">**</span></div>
<div class="t" style="left:472.30px;width:200px;text-align:center;top:433.00px;font-size:10.5px;line-height:11.729px;color:#3a3a3a;font-weight:normal;font-style:normal;">4</div>
<div class="t" style="left:508.00px;width:200px;text-align:center;top:433.00px;font-size:10.5px;line-height:11.729px;color:#3a3a3a;font-weight:normal;font-style:normal;">0</div>
<div class="t" style="left:544.00px;width:200px;text-align:center;top:433.00px;font-size:10.5px;line-height:11.729px;color:#3a3a3a;font-weight:normal;font-style:normal;">55</div>
<div class="r" style="left:4.00px;top:447.20px;width:441.00px;height:21.02px;background:#faf0e1"></div>
<div class="r" style="left:465.00px;top:447.20px;width:197.00px;height:21.02px;background:#dbdeec"></div>
<div class="t" style="left:7.90px;top:454.00px;font-size:10.5px;line-height:11.729px;color:#3a3a3a;font-weight:normal;font-style:normal;transform:scaleX(0.972);transform-origin:0 0;">Stress Crack Index&sup2;</div>
<div class="t" style="left:57.40px;width:200px;text-align:center;top:454.00px;font-size:10.5px;line-height:11.729px;color:#3a3a3a;font-weight:normal;font-style:normal;">106</div>
<div class="t" style="left:100.30px;width:200px;text-align:center;top:454.00px;font-size:10.5px;line-height:11.729px;color:#3a3a3a;font-weight:normal;font-style:normal;">20.1</div>
<div class="t" style="left:136.40px;width:200px;text-align:center;top:454.00px;font-size:10.5px;line-height:11.729px;color:#3a3a3a;font-weight:normal;font-style:normal;">18.5</div>
<div class="t" style="left:172.50px;width:200px;text-align:center;top:454.00px;font-size:10.5px;line-height:11.729px;color:#3a3a3a;font-weight:normal;font-style:normal;">0</div>
<div class="t" style="left:208.00px;width:200px;text-align:center;top:454.00px;font-size:10.5px;line-height:11.729px;color:#3a3a3a;font-weight:normal;font-style:normal;">138</div>
<div class="t" style="left:250.50px;width:200px;text-align:center;top:454.00px;font-size:10.5px;line-height:11.729px;color:#3a3a3a;font-weight:normal;font-style:normal;">83</div>
<div class="t" style="left:292.50px;width:200px;text-align:center;top:454.00px;font-size:10.5px;line-height:11.729px;color:#3a3a3a;font-weight:normal;font-style:normal;">12.3<span class="ast">*</span></div>
<div class="t" style="left:328.00px;width:200px;text-align:center;top:454.00px;font-size:10.5px;line-height:11.729px;color:#3a3a3a;font-weight:normal;font-style:normal;">8.5</div>
<div class="t" style="left:388.30px;width:200px;text-align:center;top:454.00px;font-size:10.5px;line-height:11.729px;color:#3a3a3a;font-weight:normal;font-style:normal;">321</div>
<div class="t" style="left:433.50px;width:200px;text-align:center;top:454.00px;font-size:10.5px;line-height:11.729px;color:#3a3a3a;font-weight:normal;font-style:normal;">8.5<span class="ast">**</span></div>
<div class="t" style="left:472.30px;width:200px;text-align:center;top:454.00px;font-size:10.5px;line-height:11.729px;color:#3a3a3a;font-weight:normal;font-style:normal;">11.5</div>
<div class="t" style="left:508.00px;width:200px;text-align:center;top:454.00px;font-size:10.5px;line-height:11.729px;color:#3a3a3a;font-weight:normal;font-style:normal;">0</div>
<div class="t" style="left:544.00px;width:200px;text-align:center;top:454.00px;font-size:10.5px;line-height:11.729px;color:#3a3a3a;font-weight:normal;font-style:normal;">130</div>
<div class="t" style="left:7.90px;top:475.00px;font-size:10.5px;line-height:11.729px;color:#3a3a3a;font-weight:normal;font-style:normal;transform:scaleX(0.972);transform-origin:0 0;">100-Kernel Weight (g)</div>
<div class="t" style="left:57.40px;width:200px;text-align:center;top:475.00px;font-size:10.5px;line-height:11.729px;color:#3a3a3a;font-weight:normal;font-style:normal;">106</div>
<div class="t" style="left:100.30px;width:200px;text-align:center;top:475.00px;font-size:10.5px;line-height:11.729px;color:#3a3a3a;font-weight:normal;font-style:normal;">32.31</div>
<div class="t" style="left:136.40px;width:200px;text-align:center;top:475.00px;font-size:10.5px;line-height:11.729px;color:#3a3a3a;font-weight:normal;font-style:normal;">1.92</div>
<div class="t" style="left:172.50px;width:200px;text-align:center;top:475.00px;font-size:10.5px;line-height:11.729px;color:#3a3a3a;font-weight:normal;font-style:normal;">26.66</div>
<div class="t" style="left:208.00px;width:200px;text-align:center;top:475.00px;font-size:10.5px;line-height:11.729px;color:#3a3a3a;font-weight:normal;font-style:normal;">37.81</div>
<div class="t" style="left:250.50px;width:200px;text-align:center;top:475.00px;font-size:10.5px;line-height:11.729px;color:#3a3a3a;font-weight:normal;font-style:normal;">83</div>
<div class="t" style="left:292.50px;width:200px;text-align:center;top:475.00px;font-size:10.5px;line-height:11.729px;color:#3a3a3a;font-weight:normal;font-style:normal;">33.02<span class="ast">*</span></div>
<div class="t" style="left:328.00px;width:200px;text-align:center;top:475.00px;font-size:10.5px;line-height:11.729px;color:#3a3a3a;font-weight:normal;font-style:normal;">1.50</div>
<div class="t" style="left:388.30px;width:200px;text-align:center;top:475.00px;font-size:10.5px;line-height:11.729px;color:#3a3a3a;font-weight:normal;font-style:normal;">321</div>
<div class="t" style="left:433.50px;width:200px;text-align:center;top:475.00px;font-size:10.5px;line-height:11.729px;color:#3a3a3a;font-weight:normal;font-style:normal;">34.07<span class="ast">**</span></div>
<div class="t" style="left:472.30px;width:200px;text-align:center;top:475.00px;font-size:10.5px;line-height:11.729px;color:#3a3a3a;font-weight:normal;font-style:normal;">2.51</div>
<div class="t" style="left:508.00px;width:200px;text-align:center;top:475.00px;font-size:10.5px;line-height:11.729px;color:#3a3a3a;font-weight:normal;font-style:normal;">17.49</div>
<div class="t" style="left:544.00px;width:200px;text-align:center;top:475.00px;font-size:10.5px;line-height:11.729px;color:#3a3a3a;font-weight:normal;font-style:normal;">45.39</div>
<div class="r" style="left:4.00px;top:489.24px;width:441.00px;height:21.02px;background:#faf0e1"></div>
<div class="r" style="left:465.00px;top:489.24px;width:197.00px;height:21.02px;background:#dbdeec"></div>
<div class="t" style="left:7.90px;top:496.00px;font-size:10.5px;line-height:11.729px;color:#3a3a3a;font-weight:normal;font-style:normal;transform:scaleX(0.972);transform-origin:0 0;">Kernel Volume (cm&sup3;)</div>
<div class="t" style="left:57.40px;width:200px;text-align:center;top:496.00px;font-size:10.5px;line-height:11.729px;color:#3a3a3a;font-weight:normal;font-style:normal;">106</div>
<div class="t" style="left:100.30px;width:200px;text-align:center;top:496.00px;font-size:10.5px;line-height:11.729px;color:#3a3a3a;font-weight:normal;font-style:normal;">0.25</div>
<div class="t" style="left:136.40px;width:200px;text-align:center;top:496.00px;font-size:10.5px;line-height:11.729px;color:#3a3a3a;font-weight:normal;font-style:normal;">0.01</div>
<div class="t" style="left:172.50px;width:200px;text-align:center;top:496.00px;font-size:10.5px;line-height:11.729px;color:#3a3a3a;font-weight:normal;font-style:normal;">0.21</div>
<div class="t" style="left:208.00px;width:200px;text-align:center;top:496.00px;font-size:10.5px;line-height:11.729px;color:#3a3a3a;font-weight:normal;font-style:normal;">0.29</div>
<div class="t" style="left:250.50px;width:200px;text-align:center;top:496.00px;font-size:10.5px;line-height:11.729px;color:#3a3a3a;font-weight:normal;font-style:normal;">83</div>
<div class="t" style="left:292.50px;width:200px;text-align:center;top:496.00px;font-size:10.5px;line-height:11.729px;color:#3a3a3a;font-weight:normal;font-style:normal;">0.26<span class="ast">*</span></div>
<div class="t" style="left:328.00px;width:200px;text-align:center;top:496.00px;font-size:10.5px;line-height:11.729px;color:#3a3a3a;font-weight:normal;font-style:normal;">0.01</div>
<div class="t" style="left:388.30px;width:200px;text-align:center;top:496.00px;font-size:10.5px;line-height:11.729px;color:#3a3a3a;font-weight:normal;font-style:normal;">321</div>
<div class="t" style="left:433.50px;width:200px;text-align:center;top:496.00px;font-size:10.5px;line-height:11.729px;color:#3a3a3a;font-weight:normal;font-style:normal;">0.27<span class="ast">**</span></div>
<div class="t" style="left:472.30px;width:200px;text-align:center;top:496.00px;font-size:10.5px;line-height:11.729px;color:#3a3a3a;font-weight:normal;font-style:normal;">0.02</div>
<div class="t" style="left:508.00px;width:200px;text-align:center;top:496.00px;font-size:10.5px;line-height:11.729px;color:#3a3a3a;font-weight:normal;font-style:normal;">0.14</div>
<div class="t" style="left:544.00px;width:200px;text-align:center;top:496.00px;font-size:10.5px;line-height:11.729px;color:#3a3a3a;font-weight:normal;font-style:normal;">0.35</div>
<div class="t" style="left:7.90px;top:517.00px;font-size:10.5px;line-height:11.729px;color:#3a3a3a;font-weight:normal;font-style:normal;transform:scaleX(0.972);transform-origin:0 0;">True Density (g/cm&sup3;)</div>
<div class="t" style="left:57.40px;width:200px;text-align:center;top:517.00px;font-size:10.5px;line-height:11.729px;color:#3a3a3a;font-weight:normal;font-style:normal;">106</div>
<div class="t" style="left:100.30px;width:200px;text-align:center;top:517.00px;font-size:10.5px;line-height:11.729px;color:#3a3a3a;font-weight:normal;font-style:normal;">1.285</div>
<div class="t" style="left:136.40px;width:200px;text-align:center;top:517.00px;font-size:10.5px;line-height:11.729px;color:#3a3a3a;font-weight:normal;font-style:normal;">0.012</div>
<div class="t" style="left:172.50px;width:200px;text-align:center;top:517.00px;font-size:10.5px;line-height:11.729px;color:#3a3a3a;font-weight:normal;font-style:normal;">1.264</div>
<div class="t" style="left:208.00px;width:200px;text-align:center;top:517.00px;font-size:10.5px;line-height:11.729px;color:#3a3a3a;font-weight:normal;font-style:normal;">1.324</div>
<div class="t" style="left:250.50px;width:200px;text-align:center;top:517.00px;font-size:10.5px;line-height:11.729px;color:#3a3a3a;font-weight:normal;font-style:normal;">83</div>
<div class="t" style="left:292.50px;width:200px;text-align:center;top:517.00px;font-size:10.5px;line-height:11.729px;color:#3a3a3a;font-weight:normal;font-style:normal;">1.276<span class="ast">*</span></div>
<div class="t" style="left:328.00px;width:200px;text-align:center;top:517.00px;font-size:10.5px;line-height:11.729px;color:#3a3a3a;font-weight:normal;font-style:normal;">0.011</div>
<div class="t" style="left:388.30px;width:200px;text-align:center;top:517.00px;font-size:10.5px;line-height:11.729px;color:#3a3a3a;font-weight:normal;font-style:normal;">321</div>
<div class="t" style="left:433.50px;width:200px;text-align:center;top:517.00px;font-size:10.5px;line-height:11.729px;color:#3a3a3a;font-weight:normal;font-style:normal;">1.277<span class="ast">**</span></div>
<div class="t" style="left:472.30px;width:200px;text-align:center;top:517.00px;font-size:10.5px;line-height:11.729px;color:#3a3a3a;font-weight:normal;font-style:normal;">0.016</div>
<div class="t" style="left:508.00px;width:200px;text-align:center;top:517.00px;font-size:10.5px;line-height:11.729px;color:#3a3a3a;font-weight:normal;font-style:normal;">1.199</div>
<div class="t" style="left:544.00px;width:200px;text-align:center;top:517.00px;font-size:10.5px;line-height:11.729px;color:#3a3a3a;font-weight:normal;font-style:normal;">1.323</div>
<div class="r" style="left:4.00px;top:531.28px;width:441.00px;height:21.02px;background:#faf0e1"></div>
<div class="r" style="left:465.00px;top:531.28px;width:197.00px;height:21.02px;background:#c9cee3"></div>
<div class="r" style="left:327.00px;top:531.28px;width:118.00px;height:21.02px;background:#f9ebd6"></div>
<div class="t" style="left:7.90px;top:538.00px;font-size:10.5px;line-height:11.729px;color:#3a3a3a;font-weight:normal;font-style:normal;transform:scaleX(0.972);transform-origin:0 0;">Whole Kernels (%)</div>
<div class="t" style="left:57.40px;width:200px;text-align:center;top:538.00px;font-size:10.5px;line-height:11.729px;color:#3a3a3a;font-weight:normal;font-style:normal;">106</div>
<div class="t" style="left:100.30px;width:200px;text-align:center;top:538.00px;font-size:10.5px;line-height:11.729px;color:#3a3a3a;font-weight:normal;font-style:normal;">91.3</div>
<div class="t" style="left:136.40px;width:200px;text-align:center;top:538.00px;font-size:10.5px;line-height:11.729px;color:#3a3a3a;font-weight:normal;font-style:normal;">3.1</div>
<div class="t" style="left:172.50px;width:200px;text-align:center;top:538.00px;font-size:10.5px;line-height:11.729px;color:#3a3a3a;font-weight:normal;font-style:normal;">81.8</div>
<div class="t" style="left:208.00px;width:200px;text-align:center;top:538.00px;font-size:10.5px;line-height:11.729px;color:#3a3a3a;font-weight:normal;font-style:normal;">97.6</div>
<div class="t" style="left:250.50px;width:200px;text-align:center;top:538.00px;font-size:10.5px;line-height:11.729px;color:#3a3a3a;font-weight:normal;font-style:normal;">83</div>
<div class="t" style="left:292.50px;width:200px;text-align:center;top:538.00px;font-size:10.5px;line-height:11.729px;color:#3a3a3a;font-weight:normal;font-style:normal;">88.9<span class="ast">*</span></div>
<div class="t" style="left:328.00px;width:200px;text-align:center;top:538.00px;font-size:10.5px;line-height:11.729px;color:#3a3a3a;font-weight:normal;font-style:normal;">3.0</div>
<div class="t" style="left:388.30px;width:200px;text-align:center;top:538.00px;font-size:10.5px;line-height:11.729px;color:#3a3a3a;font-weight:normal;font-style:normal;">321</div>
<div class="t" style="left:433.50px;width:200px;text-align:center;top:538.00px;font-size:10.5px;line-height:11.729px;color:#3a3a3a;font-weight:normal;font-style:normal;">94.1<span class="ast">**</span></div>
<div class="t" style="left:472.30px;width:200px;text-align:center;top:538.00px;font-size:10.5px;line-height:11.729px;color:#3a3a3a;font-weight:normal;font-style:normal;">3.3</div>
<div class="t" style="left:508.00px;width:200px;text-align:center;top:538.00px;font-size:10.5px;line-height:11.729px;color:#3a3a3a;font-weight:normal;font-style:normal;">68.0</div>
<div class="t" style="left:544.00px;width:200px;text-align:center;top:538.00px;font-size:10.5px;line-height:11.729px;color:#3a3a3a;font-weight:normal;font-style:normal;">99.4</div>
<div class="t" style="left:7.90px;top:558.00px;font-size:10.5px;line-height:11.729px;color:#3a3a3a;font-weight:normal;font-style:normal;transform:scaleX(0.972);transform-origin:0 0;">Horneous Endosperm (%)</div>
<div class="t" style="left:57.40px;width:200px;text-align:center;top:558.00px;font-size:10.5px;line-height:11.729px;color:#3a3a3a;font-weight:normal;font-style:normal;">106</div>
<div class="t" style="left:100.30px;width:200px;text-align:center;top:558.00px;font-size:10.5px;line-height:11.729px;color:#3a3a3a;font-weight:normal;font-style:normal;">84</div>
<div class="t" style="left:136.40px;width:200px;text-align:center;top:558.00px;font-size:10.5px;line-height:11.729px;color:#3a3a3a;font-weight:normal;font-style:normal;">2</div>
<div class="t" style="left:172.50px;width:200px;text-align:center;top:558.00px;font-size:10.5px;line-height:11.729px;color:#3a3a3a;font-weight:normal;font-style:normal;">80</div>
<div class="t" style="left:208.00px;width:200px;text-align:center;top:558.00px;font-size:10.5px;line-height:11.729px;color:#3a3a3a;font-weight:normal;font-style:normal;">89</div>
<div class="t" style="left:250.50px;width:200px;text-align:center;top:558.00px;font-size:10.5px;line-height:11.729px;color:#3a3a3a;font-weight:normal;font-style:normal;">83</div>
<div class="t" style="left:292.50px;width:200px;text-align:center;top:558.00px;font-size:10.5px;line-height:11.729px;color:#3a3a3a;font-weight:normal;font-style:normal;">85</div>
<div class="t" style="left:328.00px;width:200px;text-align:center;top:558.00px;font-size:10.5px;line-height:11.729px;color:#3a3a3a;font-weight:normal;font-style:normal;">2</div>
<div class="t" style="left:388.30px;width:200px;text-align:center;top:558.00px;font-size:10.5px;line-height:11.729px;color:#3a3a3a;font-weight:normal;font-style:normal;">321</div>
<div class="t" style="left:433.50px;width:200px;text-align:center;top:558.00px;font-size:10.5px;line-height:11.729px;color:#3a3a3a;font-weight:normal;font-style:normal;">86<span class="ast">**</span></div>
<div class="t" style="left:472.30px;width:200px;text-align:center;top:558.00px;font-size:10.5px;line-height:11.729px;color:#3a3a3a;font-weight:normal;font-style:normal;">4</div>
<div class="t" style="left:508.00px;width:200px;text-align:center;top:558.00px;font-size:10.5px;line-height:11.729px;color:#3a3a3a;font-weight:normal;font-style:normal;">74</div>
<div class="t" style="left:544.00px;width:200px;text-align:center;top:558.00px;font-size:10.5px;line-height:11.729px;color:#3a3a3a;font-weight:normal;font-style:normal;">97</div>
<div class="r" style="left:2.00px;top:573.32px;width:445.00px;height:19.20px;background:#d88f1c"></div>
<div class="r" style="left:464.00px;top:573.32px;width:199.00px;height:19.20px;background:#003770"></div>
<div class="t" style="left:7.70px;top:578.00px;font-size:10.5px;line-height:11.729px;color:#fff;font-weight:normal;font-style:normal;transform:scaleX(1.026);transform-origin:0 0;">Southern Rail</div>
<div class="t" style="left:470.80px;top:578.00px;font-size:10.5px;line-height:11.729px;color:#fff;font-weight:normal;font-style:normal;transform:scaleX(1.026);transform-origin:0 0;">Southern Rail</div>
<div class="t" style="left:7.90px;top:599.00px;font-size:10.5px;line-height:11.729px;color:#3a3a3a;font-weight:normal;font-style:normal;transform:scaleX(0.972);transform-origin:0 0;">Stress Cracks (%)&sup2;</div>
<div class="t" style="left:57.40px;width:200px;text-align:center;top:599.00px;font-size:10.5px;line-height:11.729px;color:#3a3a3a;font-weight:normal;font-style:normal;">7</div>
<div class="t" style="left:100.30px;width:200px;text-align:center;top:599.00px;font-size:10.5px;line-height:11.729px;color:#3a3a3a;font-weight:normal;font-style:normal;">6</div>
<div class="t" style="left:136.40px;width:200px;text-align:center;top:599.00px;font-size:10.5px;line-height:11.729px;color:#3a3a3a;font-weight:normal;font-style:normal;">4</div>
<div class="t" style="left:172.50px;width:200px;text-align:center;top:599.00px;font-size:10.5px;line-height:11.729px;color:#3a3a3a;font-weight:normal;font-style:normal;">2</div>
<div class="t" style="left:208.00px;width:200px;text-align:center;top:599.00px;font-size:10.5px;line-height:11.729px;color:#3a3a3a;font-weight:normal;font-style:normal;">12</div>
<div class="t" style="left:250.50px;width:200px;text-align:center;top:599.00px;font-size:10.5px;line-height:11.729px;color:#3a3a3a;font-weight:normal;font-style:normal;">35</div>
<div class="t" style="left:292.50px;width:200px;text-align:center;top:599.00px;font-size:10.5px;line-height:11.729px;color:#3a3a3a;font-weight:normal;font-style:normal;">4</div>
<div class="t" style="left:328.00px;width:200px;text-align:center;top:599.00px;font-size:10.5px;line-height:11.729px;color:#3a3a3a;font-weight:normal;font-style:normal;">3</div>
<div class="t" style="left:388.30px;width:200px;text-align:center;top:599.00px;font-size:10.5px;line-height:11.729px;color:#3a3a3a;font-weight:normal;font-style:normal;">366</div>
<div class="t" style="left:433.50px;width:200px;text-align:center;top:599.00px;font-size:10.5px;line-height:11.729px;color:#3a3a3a;font-weight:normal;font-style:normal;">3<span class="ast">**</span></div>
<div class="t" style="left:472.30px;width:200px;text-align:center;top:599.00px;font-size:10.5px;line-height:11.729px;color:#3a3a3a;font-weight:normal;font-style:normal;">4</div>
<div class="t" style="left:508.00px;width:200px;text-align:center;top:599.00px;font-size:10.5px;line-height:11.729px;color:#3a3a3a;font-weight:normal;font-style:normal;">0</div>
<div class="t" style="left:544.00px;width:200px;text-align:center;top:599.00px;font-size:10.5px;line-height:11.729px;color:#3a3a3a;font-weight:normal;font-style:normal;">58</div>
<div class="r" style="left:4.00px;top:613.54px;width:441.00px;height:21.02px;background:#faf0e1"></div>
<div class="r" style="left:465.00px;top:613.54px;width:197.00px;height:21.02px;background:#dbdeec"></div>
<div class="t" style="left:7.90px;top:620.00px;font-size:10.5px;line-height:11.729px;color:#3a3a3a;font-weight:normal;font-style:normal;transform:scaleX(0.972);transform-origin:0 0;">Stress Crack Index&sup2;</div>
<div class="t" style="left:57.40px;width:200px;text-align:center;top:620.00px;font-size:10.5px;line-height:11.729px;color:#3a3a3a;font-weight:normal;font-style:normal;">7</div>
<div class="t" style="left:100.30px;width:200px;text-align:center;top:620.00px;font-size:10.5px;line-height:11.729px;color:#3a3a3a;font-weight:normal;font-style:normal;">12.9</div>
<div class="t" style="left:136.40px;width:200px;text-align:center;top:620.00px;font-size:10.5px;line-height:11.729px;color:#3a3a3a;font-weight:normal;font-style:normal;">8.3</div>
<div class="t" style="left:172.50px;width:200px;text-align:center;top:620.00px;font-size:10.5px;line-height:11.729px;color:#3a3a3a;font-weight:normal;font-style:normal;">4</div>
<div class="t" style="left:208.00px;width:200px;text-align:center;top:620.00px;font-size:10.5px;line-height:11.729px;color:#3a3a3a;font-weight:normal;font-style:normal;">24</div>
<div class="t" style="left:250.50px;width:200px;text-align:center;top:620.00px;font-size:10.5px;line-height:11.729px;color:#3a3a3a;font-weight:normal;font-style:normal;">35</div>
<div class="t" style="left:292.50px;width:200px;text-align:center;top:620.00px;font-size:10.5px;line-height:11.729px;color:#3a3a3a;font-weight:normal;font-style:normal;">9.8</div>
<div class="t" style="left:328.00px;width:200px;text-align:center;top:620.00px;font-size:10.5px;line-height:11.729px;color:#3a3a3a;font-weight:normal;font-style:normal;">10.2</div>
<div class="t" style="left:388.30px;width:200px;text-align:center;top:620.00px;font-size:10.5px;line-height:11.729px;color:#3a3a3a;font-weight:normal;font-style:normal;">366</div>
<div class="t" style="left:433.50px;width:200px;text-align:center;top:620.00px;font-size:10.5px;line-height:11.729px;color:#3a3a3a;font-weight:normal;font-style:normal;">7.2</div>
<div class="t" style="left:472.30px;width:200px;text-align:center;top:620.00px;font-size:10.5px;line-height:11.729px;color:#3a3a3a;font-weight:normal;font-style:normal;">10.6</div>
<div class="t" style="left:508.00px;width:200px;text-align:center;top:620.00px;font-size:10.5px;line-height:11.729px;color:#3a3a3a;font-weight:normal;font-style:normal;">0</div>
<div class="t" style="left:544.00px;width:200px;text-align:center;top:620.00px;font-size:10.5px;line-height:11.729px;color:#3a3a3a;font-weight:normal;font-style:normal;">174</div>
<div class="t" style="left:7.90px;top:641.00px;font-size:10.5px;line-height:11.729px;color:#3a3a3a;font-weight:normal;font-style:normal;transform:scaleX(0.972);transform-origin:0 0;">100-Kernel Weight (g)</div>
<div class="t" style="left:57.40px;width:200px;text-align:center;top:641.00px;font-size:10.5px;line-height:11.729px;color:#3a3a3a;font-weight:normal;font-style:normal;">7</div>
<div class="t" style="left:100.30px;width:200px;text-align:center;top:641.00px;font-size:10.5px;line-height:11.729px;color:#3a3a3a;font-weight:normal;font-style:normal;">35.86</div>
<div class="t" style="left:136.40px;width:200px;text-align:center;top:641.00px;font-size:10.5px;line-height:11.729px;color:#3a3a3a;font-weight:normal;font-style:normal;">2.31</div>
<div class="t" style="left:172.50px;width:200px;text-align:center;top:641.00px;font-size:10.5px;line-height:11.729px;color:#3a3a3a;font-weight:normal;font-style:normal;">33.14</div>
<div class="t" style="left:208.00px;width:200px;text-align:center;top:641.00px;font-size:10.5px;line-height:11.729px;color:#3a3a3a;font-weight:normal;font-style:normal;">38.77</div>
<div class="t" style="left:250.50px;width:200px;text-align:center;top:641.00px;font-size:10.5px;line-height:11.729px;color:#3a3a3a;font-weight:normal;font-style:normal;">35</div>
<div class="t" style="left:292.50px;width:200px;text-align:center;top:641.00px;font-size:10.5px;line-height:11.729px;color:#3a3a3a;font-weight:normal;font-style:normal;">37.00</div>
<div class="t" style="left:328.00px;width:200px;text-align:center;top:641.00px;font-size:10.5px;line-height:11.729px;color:#3a3a3a;font-weight:normal;font-style:normal;">1.29</div>
<div class="t" style="left:388.30px;width:200px;text-align:center;top:641.00px;font-size:10.5px;line-height:11.729px;color:#3a3a3a;font-weight:normal;font-style:normal;">366</div>
<div class="t" style="left:433.50px;width:200px;text-align:center;top:641.00px;font-size:10.5px;line-height:11.729px;color:#3a3a3a;font-weight:normal;font-style:normal;">33.89<span class="ast">**</span></div>
<div class="t" style="left:472.30px;width:200px;text-align:center;top:641.00px;font-size:10.5px;line-height:11.729px;color:#3a3a3a;font-weight:normal;font-style:normal;">3.07</div>
<div class="t" style="left:508.00px;width:200px;text-align:center;top:641.00px;font-size:10.5px;line-height:11.729px;color:#3a3a3a;font-weight:normal;font-style:normal;">17.49</div>
<div class="t" style="left:544.00px;width:200px;text-align:center;top:641.00px;font-size:10.5px;line-height:11.729px;color:#3a3a3a;font-weight:normal;font-style:normal;">45.39</div>
<div class="r" style="left:4.00px;top:655.58px;width:441.00px;height:21.02px;background:#faf0e1"></div>
<div class="r" style="left:465.00px;top:655.58px;width:197.00px;height:21.02px;background:#dbdeec"></div>
<div class="t" style="left:7.90px;top:662.00px;font-size:10.5px;line-height:11.729px;color:#3a3a3a;font-weight:normal;font-style:normal;transform:scaleX(0.972);transform-origin:0 0;">Kernel Volume (cm&sup3;)</div>
<div class="t" style="left:57.40px;width:200px;text-align:center;top:662.00px;font-size:10.5px;line-height:11.729px;color:#3a3a3a;font-weight:normal;font-style:normal;">7</div>
<div class="t" style="left:100.30px;width:200px;text-align:center;top:662.00px;font-size:10.5px;line-height:11.729px;color:#3a3a3a;font-weight:normal;font-style:normal;">0.28</div>
<div class="t" style="left:136.40px;width:200px;text-align:center;top:662.00px;font-size:10.5px;line-height:11.729px;color:#3a3a3a;font-weight:normal;font-style:normal;">0.02</div>
<div class="t" style="left:172.50px;width:200px;text-align:center;top:662.00px;font-size:10.5px;line-height:11.729px;color:#3a3a3a;font-weight:normal;font-style:normal;">0.25</div>
<div class="t" style="left:208.00px;width:200px;text-align:center;top:662.00px;font-size:10.5px;line-height:11.729px;color:#3a3a3a;font-weight:normal;font-style:normal;">0.30</div>
<div class="t" style="left:250.50px;width:200px;text-align:center;top:662.00px;font-size:10.5px;line-height:11.729px;color:#3a3a3a;font-weight:normal;font-style:normal;">35</div>
<div class="t" style="left:292.50px;width:200px;text-align:center;top:662.00px;font-size:10.5px;line-height:11.729px;color:#3a3a3a;font-weight:normal;font-style:normal;">0.29</div>
<div class="t" style="left:328.00px;width:200px;text-align:center;top:662.00px;font-size:10.5px;line-height:11.729px;color:#3a3a3a;font-weight:normal;font-style:normal;">0.01</div>
<div class="t" style="left:388.30px;width:200px;text-align:center;top:662.00px;font-size:10.5px;line-height:11.729px;color:#3a3a3a;font-weight:normal;font-style:normal;">366</div>
<div class="t" style="left:433.50px;width:200px;text-align:center;top:662.00px;font-size:10.5px;line-height:11.729px;color:#3a3a3a;font-weight:normal;font-style:normal;">0.27</div>
<div class="t" style="left:472.30px;width:200px;text-align:center;top:662.00px;font-size:10.5px;line-height:11.729px;color:#3a3a3a;font-weight:normal;font-style:normal;">0.02</div>
<div class="t" style="left:508.00px;width:200px;text-align:center;top:662.00px;font-size:10.5px;line-height:11.729px;color:#3a3a3a;font-weight:normal;font-style:normal;">0.14</div>
<div class="t" style="left:544.00px;width:200px;text-align:center;top:662.00px;font-size:10.5px;line-height:11.729px;color:#3a3a3a;font-weight:normal;font-style:normal;">0.35</div>
<div class="t" style="left:7.90px;top:683.00px;font-size:10.5px;line-height:11.729px;color:#3a3a3a;font-weight:normal;font-style:normal;transform:scaleX(0.972);transform-origin:0 0;">True Density (g/cm&sup3;)</div>
<div class="t" style="left:57.40px;width:200px;text-align:center;top:683.00px;font-size:10.5px;line-height:11.729px;color:#3a3a3a;font-weight:normal;font-style:normal;">7</div>
<div class="t" style="left:100.30px;width:200px;text-align:center;top:683.00px;font-size:10.5px;line-height:11.729px;color:#3a3a3a;font-weight:normal;font-style:normal;">1.297</div>
<div class="t" style="left:136.40px;width:200px;text-align:center;top:683.00px;font-size:10.5px;line-height:11.729px;color:#3a3a3a;font-weight:normal;font-style:normal;">0.010</div>
<div class="t" style="left:172.50px;width:200px;text-align:center;top:683.00px;font-size:10.5px;line-height:11.729px;color:#3a3a3a;font-weight:normal;font-style:normal;">1.282</div>
<div class="t" style="left:208.00px;width:200px;text-align:center;top:683.00px;font-size:10.5px;line-height:11.729px;color:#3a3a3a;font-weight:normal;font-style:normal;">1.309</div>
<div class="t" style="left:250.50px;width:200px;text-align:center;top:683.00px;font-size:10.5px;line-height:11.729px;color:#3a3a3a;font-weight:normal;font-style:normal;">35</div>
<div class="t" style="left:292.50px;width:200px;text-align:center;top:683.00px;font-size:10.5px;line-height:11.729px;color:#3a3a3a;font-weight:normal;font-style:normal;">1.295</div>
<div class="t" style="left:328.00px;width:200px;text-align:center;top:683.00px;font-size:10.5px;line-height:11.729px;color:#3a3a3a;font-weight:normal;font-style:normal;">0.006</div>
<div class="t" style="left:388.30px;width:200px;text-align:center;top:683.00px;font-size:10.5px;line-height:11.729px;color:#3a3a3a;font-weight:normal;font-style:normal;">366</div>
<div class="t" style="left:433.50px;width:200px;text-align:center;top:683.00px;font-size:10.5px;line-height:11.729px;color:#3a3a3a;font-weight:normal;font-style:normal;">1.275<span class="ast">**</span></div>
<div class="t" style="left:472.30px;width:200px;text-align:center;top:683.00px;font-size:10.5px;line-height:11.729px;color:#3a3a3a;font-weight:normal;font-style:normal;">0.016</div>
<div class="t" style="left:508.00px;width:200px;text-align:center;top:683.00px;font-size:10.5px;line-height:11.729px;color:#3a3a3a;font-weight:normal;font-style:normal;">1.199</div>
<div class="t" style="left:544.00px;width:200px;text-align:center;top:683.00px;font-size:10.5px;line-height:11.729px;color:#3a3a3a;font-weight:normal;font-style:normal;">1.328</div>
<div class="r" style="left:4.00px;top:697.62px;width:441.00px;height:21.02px;background:#faf0e1"></div>
<div class="r" style="left:465.00px;top:697.62px;width:197.00px;height:21.02px;background:#c9cee3"></div>
<div class="r" style="left:327.00px;top:697.62px;width:118.00px;height:21.02px;background:#f9ebd6"></div>
<div class="t" style="left:7.90px;top:704.00px;font-size:10.5px;line-height:11.729px;color:#3a3a3a;font-weight:normal;font-style:normal;transform:scaleX(0.972);transform-origin:0 0;">Whole Kernels (%)</div>
<div class="t" style="left:57.40px;width:200px;text-align:center;top:704.00px;font-size:10.5px;line-height:11.729px;color:#3a3a3a;font-weight:normal;font-style:normal;">7</div>
<div class="t" style="left:100.30px;width:200px;text-align:center;top:704.00px;font-size:10.5px;line-height:11.729px;color:#3a3a3a;font-weight:normal;font-style:normal;">90.9</div>
<div class="t" style="left:136.40px;width:200px;text-align:center;top:704.00px;font-size:10.5px;line-height:11.729px;color:#3a3a3a;font-weight:normal;font-style:normal;">2.8</div>
<div class="t" style="left:172.50px;width:200px;text-align:center;top:704.00px;font-size:10.5px;line-height:11.729px;color:#3a3a3a;font-weight:normal;font-style:normal;">88.0</div>
<div class="t" style="left:208.00px;width:200px;text-align:center;top:704.00px;font-size:10.5px;line-height:11.729px;color:#3a3a3a;font-weight:normal;font-style:normal;">94.6</div>
<div class="t" style="left:250.50px;width:200px;text-align:center;top:704.00px;font-size:10.5px;line-height:11.729px;color:#3a3a3a;font-weight:normal;font-style:normal;">35</div>
<div class="t" style="left:292.50px;width:200px;text-align:center;top:704.00px;font-size:10.5px;line-height:11.729px;color:#3a3a3a;font-weight:normal;font-style:normal;">85.2<span class="ast">*</span></div>
<div class="t" style="left:328.00px;width:200px;text-align:center;top:704.00px;font-size:10.5px;line-height:11.729px;color:#3a3a3a;font-weight:normal;font-style:normal;">4.1</div>
<div class="t" style="left:388.30px;width:200px;text-align:center;top:704.00px;font-size:10.5px;line-height:11.729px;color:#3a3a3a;font-weight:normal;font-style:normal;">366</div>
<div class="t" style="left:433.50px;width:200px;text-align:center;top:704.00px;font-size:10.5px;line-height:11.729px;color:#3a3a3a;font-weight:normal;font-style:normal;">94.7<span class="ast">**</span></div>
<div class="t" style="left:472.30px;width:200px;text-align:center;top:704.00px;font-size:10.5px;line-height:11.729px;color:#3a3a3a;font-weight:normal;font-style:normal;">2.9</div>
<div class="t" style="left:508.00px;width:200px;text-align:center;top:704.00px;font-size:10.5px;line-height:11.729px;color:#3a3a3a;font-weight:normal;font-style:normal;">68.0</div>
<div class="t" style="left:544.00px;width:200px;text-align:center;top:704.00px;font-size:10.5px;line-height:11.729px;color:#3a3a3a;font-weight:normal;font-style:normal;">99.6</div>
<div class="t" style="left:7.90px;top:725.00px;font-size:10.5px;line-height:11.729px;color:#3a3a3a;font-weight:normal;font-style:normal;transform:scaleX(0.972);transform-origin:0 0;">Horneous Endosperm (%)</div>
<div class="t" style="left:57.40px;width:200px;text-align:center;top:725.00px;font-size:10.5px;line-height:11.729px;color:#3a3a3a;font-weight:normal;font-style:normal;">7</div>
<div class="t" style="left:100.30px;width:200px;text-align:center;top:725.00px;font-size:10.5px;line-height:11.729px;color:#3a3a3a;font-weight:normal;font-style:normal;">84</div>
<div class="t" style="left:136.40px;width:200px;text-align:center;top:725.00px;font-size:10.5px;line-height:11.729px;color:#3a3a3a;font-weight:normal;font-style:normal;">2</div>
<div class="t" style="left:172.50px;width:200px;text-align:center;top:725.00px;font-size:10.5px;line-height:11.729px;color:#3a3a3a;font-weight:normal;font-style:normal;">81</div>
<div class="t" style="left:208.00px;width:200px;text-align:center;top:725.00px;font-size:10.5px;line-height:11.729px;color:#3a3a3a;font-weight:normal;font-style:normal;">88</div>
<div class="t" style="left:250.50px;width:200px;text-align:center;top:725.00px;font-size:10.5px;line-height:11.729px;color:#3a3a3a;font-weight:normal;font-style:normal;">35</div>
<div class="t" style="left:292.50px;width:200px;text-align:center;top:725.00px;font-size:10.5px;line-height:11.729px;color:#3a3a3a;font-weight:normal;font-style:normal;">84</div>
<div class="t" style="left:328.00px;width:200px;text-align:center;top:725.00px;font-size:10.5px;line-height:11.729px;color:#3a3a3a;font-weight:normal;font-style:normal;">2</div>
<div class="t" style="left:388.30px;width:200px;text-align:center;top:725.00px;font-size:10.5px;line-height:11.729px;color:#3a3a3a;font-weight:normal;font-style:normal;">366</div>
<div class="t" style="left:433.50px;width:200px;text-align:center;top:725.00px;font-size:10.5px;line-height:11.729px;color:#3a3a3a;font-weight:normal;font-style:normal;">85</div>
<div class="t" style="left:472.30px;width:200px;text-align:center;top:725.00px;font-size:10.5px;line-height:11.729px;color:#3a3a3a;font-weight:normal;font-style:normal;">4</div>
<div class="t" style="left:508.00px;width:200px;text-align:center;top:725.00px;font-size:10.5px;line-height:11.729px;color:#3a3a3a;font-weight:normal;font-style:normal;">74</div>
<div class="t" style="left:544.00px;width:200px;text-align:center;top:725.00px;font-size:10.5px;line-height:11.729px;color:#3a3a3a;font-weight:normal;font-style:normal;">97</div>
<div class="t" style="left:2.00px;top:744.34px;font-size:9.9px;line-height:11.058px;color:#3a3a3a;font-weight:normal;font-style:italic;transform:scaleX(1.046);transform-origin:0 0;">* Indicates that the 2011 Export Cargo averages were significantly different from the 2012 Export Cargo averages, based on a 2-tailed t-test at the</div>
<div class="t" style="left:2.00px;top:757.04px;font-size:9.9px;line-height:11.058px;color:#3a3a3a;font-weight:normal;font-style:italic;transform:scaleX(1.046);transform-origin:0 0;">95% level of significance.</div>
<div class="t" style="left:2.00px;top:776.24px;font-size:9.9px;line-height:11.058px;color:#3a3a3a;font-weight:normal;font-style:italic;transform:scaleX(1.046);transform-origin:0 0;">** Indicates that the 2012 Harvest averages were significantly different from 2012 Export Cargo averages, based on a 2-tailed t-test at the 95%</div>
<div class="t" style="left:2.00px;top:789.24px;font-size:9.9px;line-height:11.058px;color:#3a3a3a;font-weight:normal;font-style:italic;transform:scaleX(1.046);transform-origin:0 0;">level of significance.</div>
<div class="t" style="left:2.00px;top:808.54px;font-size:9.9px;line-height:11.058px;color:#3a3a3a;font-weight:normal;font-style:italic;transform:scaleX(1.046);transform-origin:0 0;">&sup1;Due to the ECA results being composite statistics, the sum of the sample numbers from the three ECAs is greater than the U.S. Aggregate.</div>
<div class="t" style="left:2.00px;top:826.04px;font-size:9.9px;line-height:11.058px;color:#3a3a3a;font-weight:normal;font-style:italic;transform:scaleX(1.046);transform-origin:0 0;">&sup2;The Relative Margin of Error (ME) for predicting the 2012 Export Cargo population average exceeded &plusmn;10%.</div>
</body></html>
